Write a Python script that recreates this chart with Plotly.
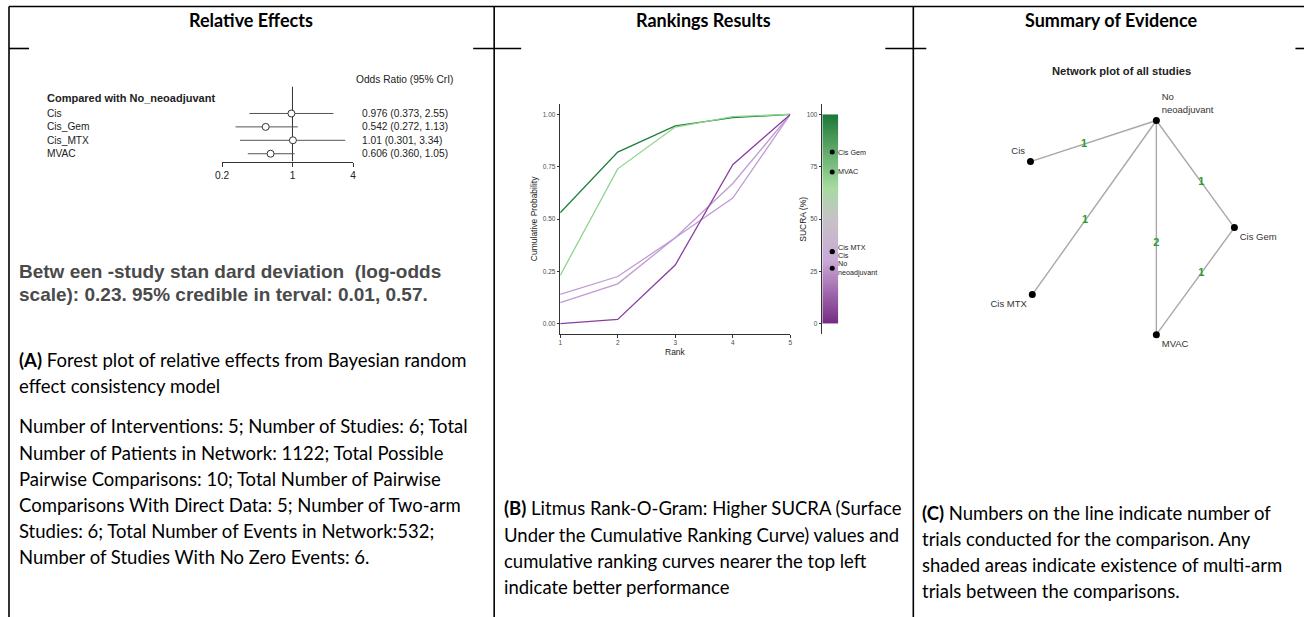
import plotly.graph_objects as go

W, H = 1307, 617

# ---------------- Panel A: relative effects vs No_neoadjuvant ----------------
forest_labels = ["Cis", "Cis_Gem", "Cis_MTX", "MVAC"]
or_median = [0.976, 0.542, 1.01, 0.606]
or_lower = [0.373, 0.272, 0.301, 0.360]
or_upper = [2.55, 1.13, 3.34, 1.05]
forest_ticks = [0.2, 1, 4]

# ---------------- Panel B: cumulative ranking probabilities ----------------
ranks = [1, 2, 3, 4, 5]
rank_treatments = ["Cis Gem", "MVAC", "Cis MTX", "Cis", "No neoadjuvant"]
cumprob_cis_gem = [0.53, 0.82, 0.945, 0.985, 1.00]
cumprob_mvac = [0.23, 0.74, 0.94, 0.99, 1.00]
cumprob_cis_mtx = [0.14, 0.225, 0.41, 0.60, 1.00]
cumprob_cis = [0.10, 0.19, 0.41, 0.67, 1.00]
cumprob_no_neo = [0.00, 0.02, 0.28, 0.76, 1.00]
sucra = [82.0, 72.5, 34.5, 34.3, 26.5]
prob_ticks = [0, 0.25, 0.5, 0.75, 1.0]
sucra_ticks = [0, 25, 50, 75, 100]

# ---------------- Panel C: evidence network ----------------
nodes = ["No neoadjuvant", "Cis", "Cis MTX", "MVAC", "Cis Gem"]
node_x = [0.596, 0.112, 0.119, 0.596, 0.896]
node_y = [0.883, 0.728, 0.226, 0.075, 0.479]
edge_from = ["No neoadjuvant", "No neoadjuvant", "No neoadjuvant", "No neoadjuvant", "MVAC"]
edge_to = ["Cis", "Cis MTX", "MVAC", "Cis Gem", "Cis Gem"]
edge_trials = [1, 1, 2, 1, 1]

# page-placement calibration for the horizontal direction
X_OFF, X_SCALE = 6.0, 0.992
TEXT_PAD = 2.5  # annotation box padding before the first glyph


def px_x(p):
    return min(1.0, max(0.0, (p - X_OFF) / X_SCALE / W))


def px_y(p):
    return 1 - (p - 0.5) / H


CHART_FONT = "Liberation Sans, Arial, sans-serif"
TEXT_FONT = "Lato, Carlito, sans-serif"

fig = go.Figure()
annotations = []
shapes = []


def left_text(txt, x_px, y_px, font):
    annotations.append(dict(text=txt, x=px_x(x_px - TEXT_PAD), y=px_y(y_px), xref="paper", yref="paper",
                            showarrow=False, xanchor="left", yanchor="middle", font=font))


# ---------- table frame ----------
frame = dict(type="line", xref="paper", yref="paper", line=dict(color="black", width=1.6))
shapes.append(dict(frame, x0=px_x(8), x1=1, y0=px_y(7), y1=px_y(7)))
for xv in (8, 493, 912):
    shapes.append(dict(frame, x0=px_x(xv), x1=px_x(xv), y0=px_y(7), y1=0))
for a, b in ((8, 28), (472, 520), (884, 925), (1294, 1307)):
    shapes.append(dict(frame, x0=px_x(a), x1=px_x(b), y0=px_y(49), y1=px_y(49)))

for title, cx in (("Relative Effects", 250), ("Rankings Results", 702), ("Summary of Evidence", 1109.5)):
    annotations.append(dict(text=f"<b>{title}</b>", x=px_x(cx), y=px_y(20), xref="paper", yref="paper",
                            showarrow=False, xanchor="center", yanchor="middle",
                            font=dict(family=TEXT_FONT, size=18, color="black")))

# ---------- Panel A: forest plot ----------
row_y = [-(i + 1) for i in range(len(forest_labels))]
y_top, y_bot = 1.01, -4.58
ci_x, ci_y = [], []
for lo, hi, yy in zip(or_lower, or_upper, row_y):
    ci_x += [lo, hi, None]
    ci_y += [yy, yy, None]
fig.add_trace(go.Scatter(x=[1, 1], y=[y_bot, y_top], mode="lines", line=dict(color="#333333", width=1),
                         xaxis="x", yaxis="y", showlegend=False, hoverinfo="skip"))
fig.add_trace(go.Scatter(x=ci_x, y=ci_y, mode="lines", line=dict(color="#555555", width=1),
                         xaxis="x", yaxis="y", showlegend=False, hoverinfo="skip"))
fig.add_trace(go.Scatter(x=or_median, y=row_y, mode="markers",
                         marker=dict(symbol="circle", size=7, color="white", line=dict(color="#333333", width=1)),
                         xaxis="x", yaxis="y", showlegend=False, cliponaxis=False))

forest_font = dict(family=CHART_FONT, size=10.2, color="#222222")
left_text("Odds Ratio (95% CrI)", 355, 80, forest_font)
left_text("<b>Compared with No_neoadjuvant</b>", 46, 98, dict(family=CHART_FONT, size=11, color="#222222"))
for lab, med, lo, hi, yy in zip(forest_labels, or_median, or_lower, or_upper, row_y):
    annotations.append(dict(text=lab, x=px_x(46 - TEXT_PAD), y=yy, xref="paper", yref="y", showarrow=False,
                            xanchor="left", yanchor="middle", font=forest_font))
    annotations.append(dict(text=f"{med:#.3g} ({lo:#.3g}, {hi:#.3g})", x=px_x(361 - TEXT_PAD), y=yy,
                            xref="paper", yref="y", showarrow=False, xanchor="left", yanchor="middle",
                            font=forest_font))

sd_font = dict(family=CHART_FONT, size=19, color="#4a4a4a")
left_text("<b>Betw een -study stan dard deviation  (log-odds</b>", 18, 272, sd_font)
left_text("<b>scale): 0.23. 95% credible in terval: 0.01, 0.57.</b>", 18, 295, sd_font)

caption_font = dict(family=TEXT_FONT, size=18.5, color="black")
caption_a = [
    ("<b>(A)</b> Forest plot of relative effects from Bayesian random", 360),
    ("effect consistency model", 386),
    ("Number of Interventions: 5; Number of Studies: 6; Total", 427),
    ("Number of Patients in Network: 1122; Total Possible", 453),
    ("Pairwise Comparisons: 10; Total Number of Pairwise", 479),
    ("Comparisons With Direct Data: 5; Number of Two-arm", 505),
    ("Studies: 6; Total Number of Events in Network:532;", 531),
    ("Number of Studies With No Zero Events: 6.", 557),
]
for txt, yy in caption_a:
    left_text(txt, 18, yy, caption_font)

# ---------- Panel B: rankogram ----------
curves = [cumprob_cis_gem, cumprob_mvac, cumprob_cis_mtx, cumprob_cis, cumprob_no_neo]
curve_colors = ["#1b7f3e", "#8fd48c", "#bf9bd2", "#bf9bd2", "#8a3fa3"]
for name, vals, col in zip(rank_treatments, curves, curve_colors):
    fig.add_trace(go.Scatter(x=ranks, y=vals, mode="lines", name=name, line=dict(color=col, width=1.3),
                             xaxis="x2", yaxis="y2", showlegend=False))

sucra_scale = [[0.0, "#762a83"], [0.3, "#c9a9d7"], [0.5, "#c6c2c6"], [0.65, "#a6dba0"], [1.0, "#1b7837"]]
n_steps = 200
bar_edges = [100 * i / n_steps for i in range(n_steps + 1)]
bar_mid = [(a + b) / 2 for a, b in zip(bar_edges[:-1], bar_edges[1:])]
fig.add_trace(go.Heatmap(z=[[v] for v in bar_mid], x=[0, 1], y=bar_edges, colorscale=sucra_scale,
                         zmin=0, zmax=100, showscale=False, xaxis="x3", yaxis="y3", hoverinfo="skip"))
fig.add_trace(go.Scatter(x=[0.62] * len(sucra), y=sucra, mode="markers", marker=dict(color="black", size=5),
                         xaxis="x3", yaxis="y3", showlegend=False, cliponaxis=False))
label_shift = [0, 0, 4, -4, 0]
label_text = ["Cis Gem", "MVAC", "Cis MTX", "Cis", "No<br>neoadjuvant"]
for txt, val, sh in zip(label_text, sucra, label_shift):
    annotations.append(dict(text=txt, x=0.62, y=val, xref="x3", yref="y3", xshift=4, yshift=sh,
                            showarrow=False, xanchor="left", yanchor="middle", align="left",
                            font=dict(family=CHART_FONT, size=7.2, color="#222222")))

axis_title_font = dict(family=CHART_FONT, size=8.5, color="#222222")
annotations.append(dict(text="Rank", x=px_x(674), y=px_y(352), xref="paper", yref="paper", showarrow=False,
                        xanchor="center", yanchor="middle", font=axis_title_font))
annotations.append(dict(text="Cumulative Probability", x=px_x(533), y=px_y(219.5), xref="paper", yref="paper",
                        showarrow=False, textangle=-90, xanchor="center", yanchor="middle", font=axis_title_font))
annotations.append(dict(text="SUCRA (%)", x=px_x(802), y=px_y(220), xref="paper", yref="paper",
                        showarrow=False, textangle=-90, xanchor="center", yanchor="middle", font=axis_title_font))

caption_b = [
    ("<b>(B)</b> Litmus Rank-O-Gram: Higher SUCRA (Surface", 508),
    ("Under the Cumulative Ranking Curve) values and", 535),
    ("cumulative ranking curves nearer the top left", 561),
    ("indicate better performance", 587),
]
for txt, yy in caption_b:
    left_text(txt, 503, yy, caption_font)

# ---------- Panel C: network plot ----------
pos = {n: (x, y) for n, x, y in zip(nodes, node_x, node_y)}
ex, ey = [], []
for a, b in zip(edge_from, edge_to):
    ex += [pos[a][0], pos[b][0], None]
    ey += [pos[a][1], pos[b][1], None]
fig.add_trace(go.Scatter(x=ex, y=ey, mode="lines", line=dict(color="#a8a8a8", width=1.4),
                         xaxis="x4", yaxis="y4", showlegend=False, hoverinfo="skip"))
node_text = ["No<br>neoadjuvant", "Cis", "Cis MTX", "MVAC", "Cis Gem"]
node_textpos = ["top right", "top left", "bottom left", "bottom right", "bottom right"]
fig.add_trace(go.Scatter(x=node_x, y=node_y, mode="markers+text", text=node_text,
                         textposition=node_textpos, marker=dict(color="black", size=7),
                         textfont=dict(family=CHART_FONT, size=9.5, color="#333333"),
                         xaxis="x4", yaxis="y4", showlegend=False, cliponaxis=False))
t_label = 0.575
lab_x = [pos[a][0] + t_label * (pos[b][0] - pos[a][0]) for a, b in zip(edge_from, edge_to)]
lab_y = [pos[a][1] + t_label * (pos[b][1] - pos[a][1]) for a, b in zip(edge_from, edge_to)]
fig.add_trace(go.Scatter(x=lab_x, y=lab_y, mode="text", text=[f"<b>{n}</b>" for n in edge_trials],
                         textfont=dict(family=CHART_FONT, size=11, color="#2e9a2e"),
                         xaxis="x4", yaxis="y4", showlegend=False, cliponaxis=False))
annotations.append(dict(text="<b>Network plot of all studies</b>", x=px_x(1120), y=px_y(72), xref="paper",
                        yref="paper", showarrow=False, xanchor="center", yanchor="middle",
                        font=dict(family=CHART_FONT, size=11.2, color="#222222")))

caption_c = [
    ("<b>(C)</b> Numbers on the line indicate number of", 513),
    ("trials conducted for the comparison. Any", 539),
    ("shaded areas indicate existence of multi-arm", 565),
    ("trials between the comparisons.", 591),
]
for txt, yy in caption_c:
    left_text(txt, 921, yy, caption_font)

# ---------- axes ----------
small_tick = dict(family=CHART_FONT, size=6.5, color="#4d4d4d")
rank_y_dom = [px_y(334.5), px_y(104.5)]
fig.update_layout(
    width=W, height=H, margin=dict(l=0, r=0, t=0, b=0),
    paper_bgcolor="white", plot_bgcolor="rgba(0,0,0,0)", showlegend=False,
    font=dict(family=CHART_FONT),
    xaxis=dict(domain=[px_x(221), px_x(352)], type="log", range=[-0.69897, 0.60206], anchor="y",
               tickvals=forest_ticks, ticktext=[str(t) for t in forest_ticks], showline=True,
               linecolor="#333333", linewidth=1, ticks="outside", ticklen=4, tickcolor="#333333",
               tickfont=dict(family=CHART_FONT, size=10.2, color="#222222"), showgrid=False, zeroline=False),
    yaxis=dict(domain=[px_y(162), px_y(87)], range=[y_bot, y_top], anchor="x", visible=False),
    xaxis2=dict(domain=[px_x(559), px_x(789)], range=[1, 5], anchor="y2", tickvals=ranks,
                showline=True, linecolor="#333333", linewidth=1, ticks="outside", ticklen=2.5,
                tickcolor="#333333", tickfont=small_tick, showgrid=False, zeroline=False),
    yaxis2=dict(domain=rank_y_dom, range=[-0.05, 1.05], anchor="x2", tickvals=prob_ticks, tickformat=".2f",
                showline=True, linecolor="#333333", linewidth=1, ticks="outside", ticklen=2.5,
                tickcolor="#333333", tickfont=small_tick, showgrid=False, zeroline=False),
    xaxis3=dict(domain=[px_x(821), px_x(837)], range=[0, 1], anchor="y3", visible=False),
    yaxis3=dict(domain=rank_y_dom, range=[-5, 105], anchor="x3", tickvals=sucra_ticks, showline=True,
                linecolor="#333333", linewidth=1, ticks="outside", ticklen=2.5, tickcolor="#333333",
                tickfont=small_tick, showgrid=False, zeroline=False),
    xaxis4=dict(domain=[px_x(1000), px_x(1260)], range=[0, 1], anchor="y4", visible=False),
    yaxis4=dict(domain=[px_y(355), px_y(90)], range=[0, 1], anchor="x4", visible=False),
    annotations=annotations,
    shapes=shapes,
)

fig.write_html("out.html")
